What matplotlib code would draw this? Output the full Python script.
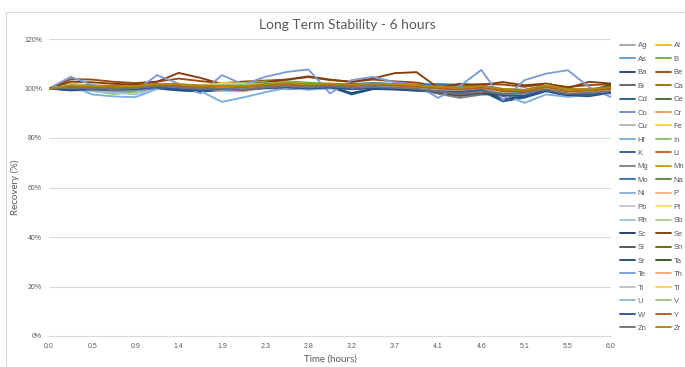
import matplotlib.pyplot as plt
from matplotlib.patches import Rectangle
from matplotlib.ticker import FuncFormatter

plt.rcParams['font.family'] = ['Liberation Sans', 'DejaVu Sans']

# ── Datos ────────────────────────────────────────────────────────────────────
etiquetas_x = ['0.0', '0.5', '0.9', '1.4', '1.9', '2.3', '2.8',
               '3.2', '3.7', '4.1', '4.6', '5.1', '5.5', '6.0']
n_puntos = 27  # una etiqueta cada dos mediciones

elementos = ['Ag', 'Al', 'As', 'B', 'Ba', 'Be', 'Bi', 'Ca', 'Cd', 'Ce', 'Co',
             'Cr', 'Cu', 'Fe', 'Hf', 'In', 'K', 'Li', 'Mg', 'Mn', 'Mo', 'Na',
             'Ni', 'P', 'Pb', 'Pt', 'Rh', 'Sb', 'Sc', 'Se', 'Si', 'Sn', 'Sr',
             'Ta', 'Te', 'Th', 'Ti', 'Tl', 'U', 'V', 'W', 'Y', 'Zn', 'Zr']

colores = ['#A5A5A5', '#FFC000', '#5B9BD5', '#70AD47', '#264478', '#9E480E',
           '#636363', '#997300', '#255E91', '#43682B', '#698ED0', '#F1975A',
           '#B7B7B7', '#FFCD33', '#7CAFDD', '#8CC168', '#335AA1', '#D26012',
           '#848484', '#CC9A00', '#3275B2', '#5A8A39', '#8FAADC', '#F4B183',
           '#C9C9C9', '#FFD966', '#9DC3E6', '#A9D18E', '#203864', '#843C0C',
           '#525252', '#7F6000', '#1F4E79', '#375623', '#7C9CD6', '#F3A875',
           '#C0C0C0', '#FFD34D', '#8CB9E2', '#9BC87E', '#2F5597', '#B85C1F',
           '#737373', '#B38600']

Ag = [100, 100.8, 100.2, 99.6, 100.1, 101.2, 100.5, 100.1, 100.9, 100.4, 101.2, 101.0, 100.6, 101.5, 100.9, 101.6, 101.2, 100.5, 99.9, 99.2, 100.6, 98.9, 98.2, 100.2, 98.7, 98.4, 99.1]
Al = [100, 101.2, 100.9, 100.4, 100.0, 101.4, 101.1, 100.6, 101.3, 100.8, 101.6, 101.9, 101.2, 101.0, 101.3, 101.7, 101.4, 101.2, 100.3, 100.0, 100.9, 99.4, 98.9, 100.8, 99.0, 99.2, 99.8]
As = [100, 101.6, 101.0, 100.3, 100.6, 101.9, 101.4, 100.8, 101.0, 100.6, 101.8, 102.3, 101.7, 101.9, 101.5, 102.2, 101.8, 101.6, 100.9, 100.2, 101.2, 99.6, 99.0, 101.3, 99.4, 99.1, 100.4]
B = [100, 101.8, 101.3, 99.0, 99.6, 101.0, 101.6, 101.2, 102.0, 101.9, 102.6, 102.9, 102.4, 101.8, 101.6, 101.9, 101.5, 101.0, 100.0, 99.8, 100.8, 98.9, 98.0, 101.9, 99.6, 99.0, 99.8]
Ba = [100, 99.5, 99.8, 99.6, 99.7, 100.4, 99.6, 99.2, 99.8, 99.5, 100.2, 100.0, 99.8, 100.4, 99.9, 100.3, 100.0, 99.4, 98.9, 98.4, 99.5, 97.2, 97.0, 99.6, 97.6, 97.4, 98.9]
Be = [100, 103.8, 103.6, 102.7, 102.2, 102.8, 104.0, 103.0, 102.1, 102.8, 103.2, 103.6, 104.6, 103.4, 102.7, 103.6, 102.9, 102.4, 100.9, 101.2, 101.8, 101.6, 100.7, 101.9, 100.6, 101.4, 101.7]
Bi = [100, 100.6, 100.2, 99.9, 100.6, 101.5, 101.0, 100.4, 100.2, 99.8, 100.8, 101.3, 100.9, 101.4, 100.7, 100.9, 100.6, 100.1, 98.6, 97.5, 98.9, 97.6, 97.8, 99.8, 97.9, 98.2, 98.6]
Ca = [100, 101.0, 101.2, 101.1, 100.6, 101.6, 101.4, 100.8, 100.7, 100.9, 101.6, 101.9, 101.6, 101.7, 101.8, 101.9, 101.6, 101.1, 100.4, 99.9, 100.6, 99.1, 99.0, 100.8, 99.3, 99.2, 100.2]
Cd = [100, 99.2, 99.5, 99.0, 98.9, 100.0, 99.2, 98.8, 99.3, 99.9, 100.6, 100.9, 100.4, 100.7, 97.6, 99.8, 99.6, 99.1, 98.6, 98.1, 99.0, 94.8, 96.3, 98.9, 97.0, 96.9, 98.3]
Ce = [100, 100.4, 100.6, 100.4, 100.3, 101.0, 100.9, 100.6, 100.8, 100.6, 101.3, 101.4, 101.1, 101.2, 100.9, 101.1, 100.9, 100.7, 99.8, 99.3, 100.2, 98.8, 98.1, 100.4, 98.9, 98.6, 100.9]
Co = [100, 101.4, 100.8, 100.5, 100.7, 101.7, 101.5, 100.9, 101.6, 101.1, 101.9, 102.1, 101.5, 101.3, 101.6, 102.0, 101.9, 101.6, 100.7, 100.5, 101.3, 99.8, 99.5, 101.4, 99.7, 99.9, 100.2]
Cr = [100, 100.3, 99.4, 98.8, 98.9, 100.2, 100.6, 100.1, 99.3, 99.5, 100.9, 101.2, 100.8, 101.1, 100.6, 100.8, 100.5, 100.2, 99.5, 99.0, 99.9, 98.6, 98.0, 100.0, 98.4, 98.6, 99.3]
Cu = [100, 100.9, 100.3, 100.0, 100.4, 101.1, 100.7, 100.3, 100.6, 100.1, 101.0, 101.3, 100.8, 101.0, 100.5, 101.0, 100.7, 100.4, 99.6, 99.1, 100.0, 98.4, 98.3, 100.3, 98.5, 98.2, 99.0]
Fe = [100, 101.5, 101.0, 100.2, 100.3, 101.3, 101.3, 100.7, 101.8, 101.7, 101.4, 101.2, 101.0, 101.3, 101.0, 101.5, 101.2, 100.9, 100.0, 99.7, 100.7, 99.2, 98.6, 100.6, 98.8, 98.5, 99.6]
Hf = [100, 101.0, 97.6, 96.8, 96.5, 99.8, 101.2, 99.0, 94.6, 96.4, 98.5, 100.2, 99.5, 100.1, 100.6, 101.4, 100.7, 99.8, 98.0, 99.6, 100.3, 97.8, 94.2, 97.6, 96.6, 97.5, 98.8]
In = [100, 100.7, 99.0, 97.8, 98.6, 100.6, 101.0, 100.4, 101.3, 102.0, 102.8, 102.5, 101.9, 101.8, 101.2, 101.6, 101.4, 100.9, 99.9, 99.6, 100.6, 98.6, 97.6, 101.1, 98.9, 98.8, 99.5]
K = [100, 99.7, 100.0, 99.4, 99.6, 100.6, 99.9, 99.4, 99.9, 99.3, 100.3, 100.6, 100.0, 100.5, 99.8, 100.4, 100.2, 99.6, 99.0, 98.7, 99.6, 97.4, 97.3, 99.6, 97.9, 97.6, 98.5]
Li = [100, 100.9, 100.5, 100.3, 100.5, 101.3, 101.1, 100.5, 100.9, 100.6, 101.5, 101.8, 101.2, 101.5, 101.1, 101.5, 101.3, 100.8, 100.2, 99.6, 100.4, 99.0, 98.7, 100.7, 98.9, 99.3, 99.9]
Mg = [100, 100.2, 100.0, 99.8, 100.3, 101.1, 100.5, 100.0, 99.8, 99.6, 100.4, 100.8, 100.4, 100.8, 100.2, 100.5, 100.2, 99.8, 97.9, 96.2, 97.5, 97.8, 98.4, 99.5, 97.6, 98.0, 98.7]
Mn = [100, 101.1, 100.8, 100.6, 100.9, 101.8, 101.6, 101.0, 100.8, 100.7, 101.6, 102.0, 101.7, 101.9, 101.4, 101.8, 101.5, 101.2, 100.6, 100.1, 100.8, 99.6, 99.2, 101.0, 99.6, 99.4, 100.3]
Mo = [100, 100.5, 100.1, 99.7, 100.0, 101.0, 100.6, 100.2, 100.6, 101.5, 101.8, 101.6, 101.3, 101.6, 101.9, 102.1, 101.7, 101.4, 101.8, 101.5, 101.0, 99.0, 98.4, 100.4, 98.6, 98.3, 99.2]
Na = [100, 100.6, 100.4, 100.2, 100.4, 101.2, 100.9, 100.4, 100.6, 100.4, 101.1, 101.6, 101.3, 101.4, 101.0, 101.3, 101.1, 100.6, 99.9, 99.5, 101.0, 99.3, 98.9, 101.6, 99.2, 99.4, 101.3]
Ni = [100, 101.3, 100.7, 100.1, 100.0, 101.0, 100.8, 100.2, 100.4, 100.3, 101.2, 101.5, 100.9, 101.1, 100.8, 101.2, 101.0, 100.6, 99.5, 99.0, 100.1, 98.5, 98.0, 100.1, 98.3, 98.5, 99.3]
P = [100, 100.0, 99.6, 99.5, 99.7, 100.4, 100.2, 99.8, 99.0, 98.8, 100.3, 100.7, 100.5, 100.4, 100.1, 100.6, 100.4, 100.0, 99.1, 98.9, 99.8, 98.6, 98.3, 100.0, 98.6, 98.9, 99.4]
Pb = [100, 100.5, 100.3, 100.1, 100.2, 100.9, 100.6, 100.2, 100.4, 100.2, 100.9, 101.1, 100.7, 100.9, 100.6, 100.9, 100.7, 100.3, 99.6, 99.2, 100.1, 98.7, 98.4, 100.2, 98.6, 98.4, 99.2]
Pt = [100, 101.2, 100.7, 100.6, 100.8, 101.5, 101.2, 100.8, 101.9, 102.0, 101.5, 101.3, 101.1, 101.5, 101.2, 101.6, 101.3, 101.0, 100.3, 99.8, 100.5, 99.2, 98.8, 100.7, 99.0, 98.9, 99.7]
Rh = [100, 99.8, 99.0, 98.4, 97.6, 99.9, 100.6, 100.0, 99.5, 99.3, 100.4, 100.3, 99.8, 100.3, 100.6, 100.9, 100.2, 99.5, 98.4, 98.9, 99.6, 98.2, 97.2, 99.8, 97.2, 98.2, 97.9]
Sb = [100, 100.8, 100.4, 100.0, 100.2, 100.9, 100.8, 100.3, 100.6, 100.7, 101.4, 101.7, 101.4, 101.3, 100.9, 101.2, 101.0, 100.6, 99.7, 99.4, 100.2, 98.7, 98.3, 100.3, 98.6, 98.7, 99.4]
Sc = [100, 99.8, 100.1, 99.7, 99.9, 100.8, 100.2, 99.7, 100.1, 99.7, 100.6, 100.9, 100.4, 100.8, 100.1, 100.7, 100.4, 99.9, 99.3, 98.9, 99.9, 97.8, 97.6, 99.9, 98.1, 97.9, 98.8]
Se = [100, 102.8, 102.5, 101.9, 101.6, 102.7, 106.3, 104.3, 101.8, 101.6, 102.4, 103.6, 104.9, 103.6, 102.7, 104.1, 106.2, 106.6, 100.3, 101.9, 101.4, 102.6, 101.3, 102.0, 100.2, 102.7, 102.0]
Si = [100, 100.1, 99.9, 99.6, 100.0, 100.9, 100.3, 99.8, 99.6, 99.4, 100.2, 100.6, 100.2, 100.6, 100.0, 100.4, 100.1, 99.6, 98.3, 97.0, 98.0, 97.0, 97.5, 99.3, 97.3, 97.6, 98.3]
Sn = [100, 101.0, 100.7, 100.5, 100.7, 101.6, 101.4, 100.9, 100.9, 100.7, 101.5, 101.9, 101.5, 101.7, 101.3, 101.7, 101.5, 101.1, 100.4, 99.9, 100.7, 99.4, 99.0, 100.9, 99.3, 99.3, 100.1]
Sr = [100, 99.4, 99.6, 99.2, 99.3, 100.2, 99.4, 98.9, 99.5, 99.7, 100.4, 100.6, 100.1, 100.5, 98.2, 99.9, 99.7, 99.2, 98.8, 98.3, 99.3, 95.6, 96.8, 99.2, 97.3, 97.1, 98.6]
Ta = [100, 100.5, 100.5, 100.3, 100.4, 101.1, 100.8, 100.5, 100.7, 100.5, 101.2, 101.5, 101.2, 101.3, 100.9, 101.2, 101.0, 100.7, 99.9, 99.5, 100.4, 98.9, 98.5, 100.6, 99.1, 98.9, 101.5]
Te = [100, 104.7, 101.5, 99.3, 99.1, 105.4, 101.9, 98.0, 105.4, 101.6, 104.7, 106.7, 107.7, 98.0, 103.4, 104.7, 102.5, 101.5, 96.2, 101.0, 107.5, 95.3, 103.4, 106.0, 107.4, 100.5, 96.5]
Th = [100, 100.2, 99.8, 99.6, 99.4, 100.5, 100.3, 99.9, 99.2, 99.0, 100.6, 100.8, 100.5, 100.6, 100.2, 100.7, 100.5, 100.1, 99.3, 98.9, 99.8, 98.7, 98.2, 100.1, 98.5, 98.7, 99.4]
Ti = [100, 100.7, 100.2, 99.9, 100.2, 100.9, 100.6, 100.2, 100.5, 100.3, 101.0, 101.2, 100.9, 101.1, 100.7, 101.0, 100.8, 100.4, 99.7, 99.3, 100.2, 98.8, 98.5, 100.4, 98.7, 98.6, 99.3]
Tl = [100, 101.3, 100.9, 100.5, 100.7, 101.4, 101.1, 100.8, 102.2, 101.9, 101.3, 101.6, 101.2, 101.4, 101.1, 101.5, 101.2, 100.9, 100.1, 99.6, 100.4, 98.9, 98.3, 100.4, 98.5, 98.6, 99.5]
U = [100, 101.2, 100.5, 99.6, 99.2, 100.5, 100.9, 100.3, 99.4, 99.8, 100.8, 101.0, 100.4, 100.9, 100.7, 101.1, 100.8, 100.3, 99.0, 98.6, 99.6, 97.9, 97.4, 99.5, 97.8, 97.6, 98.7]
V = [100, 101.0, 100.6, 99.3, 99.5, 100.9, 101.2, 100.9, 101.5, 101.7, 102.1, 102.4, 101.8, 101.6, 101.2, 101.5, 101.3, 100.9, 99.9, 99.5, 100.6, 98.7, 97.9, 101.5, 99.3, 98.9, 99.6]
W = [100, 99.6, 99.9, 99.5, 99.6, 100.5, 99.8, 99.2, 99.7, 99.4, 100.3, 100.5, 100.0, 100.4, 99.7, 100.3, 100.1, 99.5, 98.9, 98.6, 99.4, 97.3, 97.1, 99.5, 97.8, 97.5, 98.3]
Y = [100, 100.8, 100.6, 100.3, 100.4, 101.2, 101.0, 100.5, 100.8, 100.5, 101.3, 101.6, 101.1, 101.4, 101.0, 101.4, 101.2, 100.7, 100.0, 99.6, 100.3, 99.0, 98.6, 100.6, 98.8, 99.2, 99.8]
Zn = [100, 100.3, 100.1, 99.8, 100.2, 101.0, 100.4, 99.9, 99.9, 99.6, 100.5, 100.9, 100.5, 100.9, 100.3, 100.6, 100.3, 99.9, 98.8, 97.8, 98.9, 97.9, 98.2, 99.7, 97.9, 98.3, 98.9]
Zr = [100, 101.2, 101.0, 100.8, 101.0, 101.9, 101.8, 101.2, 101.0, 100.9, 101.8, 102.2, 101.9, 102.0, 101.6, 102.0, 101.8, 101.4, 100.8, 100.3, 101.0, 99.8, 99.4, 101.2, 99.8, 99.6, 100.6]

series = [Ag, Al, As, B, Ba, Be, Bi, Ca, Cd, Ce, Co, Cr, Cu, Fe, Hf, In, K, Li,
          Mg, Mn, Mo, Na, Ni, P, Pb, Pt, Rh, Sb, Sc, Se, Si, Sn, Sr, Ta, Te,
          Th, Ti, Tl, U, V, W, Y, Zn, Zr]

# ── Figura ───────────────────────────────────────────────────────────────────
fig = plt.figure(figsize=(6.85, 3.67), dpi=100)
fig.patches.append(Rectangle((6 / 685, -0.05), 1.2, 1 - 12 / 367 + 0.05,
                             transform=fig.transFigure, fill=False,
                             edgecolor='#D9D9D9', linewidth=0.8))

ax = fig.add_axes([49 / 685, 1 - 336 / 367, (611 - 49) / 685, (336 - 39) / 367])

x = list(range(n_puntos))
lineas = []
for nombre, col, ys in zip(elementos, colores, series):
    l, = ax.plot(x, ys, color=col, linewidth=1.35, label=nombre,
                 solid_joinstyle='round', solid_capstyle='round')
    lineas.append(l)

ax.set_xlim(0, n_puntos - 1)
ax.set_ylim(0, 120)
ax.set_yticks(range(0, 121, 20))
ax.yaxis.set_major_formatter(FuncFormatter(lambda v, p: f'{v:.0f}%'))
ax.set_xticks(range(0, n_puntos, 2))
ax.set_xticklabels(etiquetas_x)
ax.grid(axis='y', color='#D9D9D9', linewidth=0.8)
ax.set_axisbelow(True)
for s in ['top', 'right', 'left']:
    ax.spines[s].set_visible(False)
ax.spines['bottom'].set_color('#D9D9D9')
ax.spines['bottom'].set_linewidth(0.8)
ax.tick_params(length=0, labelsize=5, labelcolor='#595959', pad=5)

ax.set_xlabel('Time (hours)', fontsize=7, color='#595959', labelpad=3,
              family=['Lato', 'DejaVu Sans'])
ax.set_ylabel('Recovery (%)', fontsize=7, color='#595959', labelpad=3,
              family=['Lato', 'DejaVu Sans'])
fig.text(347 / 685, 1 - 25 / 367, 'Long Term Stability - 6 hours',
         ha='center', va='center', fontsize=10, color='#595959',
         family=['Lato', 'DejaVu Sans'])

# leyenda: Excel llena por filas, matplotlib por columnas
orden = lineas[0::2] + lineas[1::2]
leg = fig.legend(orden, [l.get_label() for l in orden], ncol=2,
                 loc='upper left', bbox_to_anchor=(620 / 685, 1 - 42 / 367),
                 fontsize=5.5, frameon=False, handlelength=2.0,
                 handletextpad=0.3, columnspacing=1.0, labelspacing=0.8,
                 borderaxespad=0, borderpad=0)
for t in leg.get_texts():
    t.set_color('#595959')

fig.savefig('out.png', dpi=100)
